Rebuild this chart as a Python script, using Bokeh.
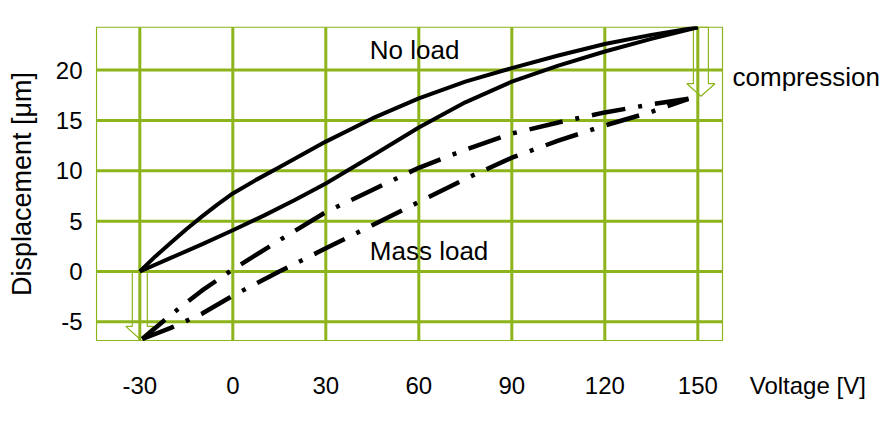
from bokeh.plotting import figure
from bokeh.models import Range1d, FixedTicker, Label
from bokeh.embed import file_html
from bokeh.resources import INLINE

# ---------------- data ----------------
voltage_ticks = [-30, 0, 30, 60, 90, 120, 150]
disp_ticks = [-5, 0, 5, 10, 15, 20]
x_title = "Voltage [V]"
y_title = "Displacement [\u03bcm]"

# No load: ascending branch (lower curve)
noload_up_v = [-30, -20, -10, 0, 10, 20, 30, 45, 60, 75, 90, 105, 120, 135, 150]
noload_up_d = [0, 1.35, 2.7, 4.1, 5.55, 7.1, 8.75, 11.5, 14.3, 16.8, 18.85, 20.45, 21.85, 23.1, 24.25]

# No load: descending branch (upper curve)
noload_down_v = [150, 135, 120, 105, 90, 75, 60, 45, 30, 15, 7.5, 0, -5, -10, -15, -20, -25, -30]
noload_down_d = [24.25, 23.5, 22.6, 21.45, 20.2, 18.85, 17.2, 15.2, 12.9, 10.35, 9.1, 7.75, 6.65, 5.45, 4.2, 2.85, 1.5, 0]

# Mass load: ascending branch (lower dash-dot curve)
mass_up_v = [-29.2, -20, -10, 0, 15, 30, 45, 60, 75, 90, 105, 120, 135, 147]
mass_up_d = [-6.7, -5.6, -4.2, -2.4, 0.0, 2.3, 4.6, 6.9, 9.2, 11.3, 13.0, 14.5, 15.85, 17.15]

# Mass load: descending branch (upper dash-dot curve)
mass_down_v = [147, 135, 120, 105, 90, 75, 60, 45, 30, 15, 0, -10, -20, -29.2]
mass_down_d = [17.15, 16.6, 15.8, 14.8, 13.7, 12.1, 10.3, 8.1, 5.9, 3.1, 0.2, -1.9, -4.3, -6.7]

# compression arrows: voltage position, start and end displacement
arrow_v = [-30, 151]
arrow_start = [0, 24.26]
arrow_end = [-6.7, 17.4]

# ---------------- style / layout ----------------
GREEN = "#8db41a"
FONT = "Liberation Sans"
X0, X1 = -43.97, 157.97          # boxed plot area
Y0, Y1 = -6.85, 24.26
PX_PER_V = 3.1
PX_PER_D = 10.07
LEFT, TOP = 95, 26
W, H = 891, 435
frame_w = W - LEFT
frame_h = 315
xr0 = X0 - 1 / PX_PER_V
xr1 = xr0 + frame_w / PX_PER_V
yr0 = Y0 - 1 / PX_PER_D
yr1 = yr0 + frame_h / PX_PER_D

p = figure(width=W, height=H, output_backend="svg", toolbar_location=None,
           x_range=Range1d(xr0, xr1), y_range=Range1d(yr0, yr1),
           min_border_left=LEFT, min_border_right=0, min_border_top=TOP,
           min_border_bottom=H - TOP - frame_h)
p.background_fill_color = "white"
p.border_fill_color = "white"
p.outline_line_color = None
p.grid.visible = False

# grid lines and box (restricted to the boxed area)
p.segment(x0=voltage_ticks, y0=[Y0] * len(voltage_ticks), x1=voltage_ticks, y1=[Y1] * len(voltage_ticks),
          line_color=GREEN, line_width=3)
p.segment(x0=[X0] * len(disp_ticks), y0=disp_ticks, x1=[X1] * len(disp_ticks), y1=disp_ticks,
          line_color=GREEN, line_width=3)
p.quad(left=[X0], right=[X1], bottom=[Y0], top=[Y1], fill_color=None, line_color=GREEN, line_width=1.2)

# axes
xtick_pos = voltage_ticks + [X1 + 27.5]
p.xaxis.ticker = FixedTicker(ticks=xtick_pos)
overrides = {t: str(t) for t in voltage_ticks}
overrides[xtick_pos[-1]] = x_title
p.xaxis.major_label_overrides = overrides
p.yaxis.ticker = FixedTicker(ticks=disp_ticks)
p.yaxis.major_label_overrides = {t: str(t) for t in disp_ticks}
for ax in (p.xaxis, p.yaxis):
    ax.axis_line_color = None
    ax.major_tick_line_color = None
    ax.minor_tick_line_color = None
    ax.major_tick_out = 0
    ax.major_tick_in = 0
    ax.major_label_text_font = FONT
    ax.major_label_text_font_size = "24px"
    ax.major_label_text_color = "black"
p.xaxis.major_label_standoff = 30
p.yaxis.major_label_standoff = 13
p.yaxis.axis_label = y_title
p.yaxis.axis_label_text_font = FONT
p.yaxis.axis_label_text_font_size = "27px"
p.yaxis.axis_label_text_font_style = "normal"
p.yaxis.axis_label_text_color = "black"
p.yaxis.axis_label_standoff = 16

# arrows (hollow block arrows), built in data coordinates
shaft_half = 7.5 / PX_PER_V
head_half = 14.0 / PX_PER_V
head_len = 12.6 / PX_PER_D
xs, ys = [], []
for v, s, e in zip(arrow_v, arrow_start, arrow_end):
    b = e + head_len
    xs.append([v - shaft_half, v + shaft_half, v + shaft_half, v + head_half, v, v - head_half, v - shaft_half])
    ys.append([s, s, b, b, e, b, b])
p.patches(xs, ys, fill_color=None, line_color=GREEN, line_width=1.2)

# curves
p.line(noload_up_v, noload_up_d, line_color="black", line_width=4, line_join="round")
p.line(noload_down_v, noload_down_d, line_color="black", line_width=4, line_join="round")
p.line(mass_up_v, mass_up_d, line_color="black", line_width=4.5, line_dash="34 13 4 13")
p.line(mass_down_v, mass_down_d, line_color="black", line_width=4.5, line_dash="34 13 4 13")

# texts
def add_label(x, y, text):
    p.add_layout(Label(x=x, y=y, text=text, text_font=FONT, text_font_size="26px",
                       text_color="black", text_baseline="alphabetic", text_align="left"))

add_label(44.2, 21.95, "No load")
add_label(44.2, 2.05, "Mass load")
add_label(161.2, 19.3, "compression")

open("out.html", "w").write(file_html(p, INLINE))
